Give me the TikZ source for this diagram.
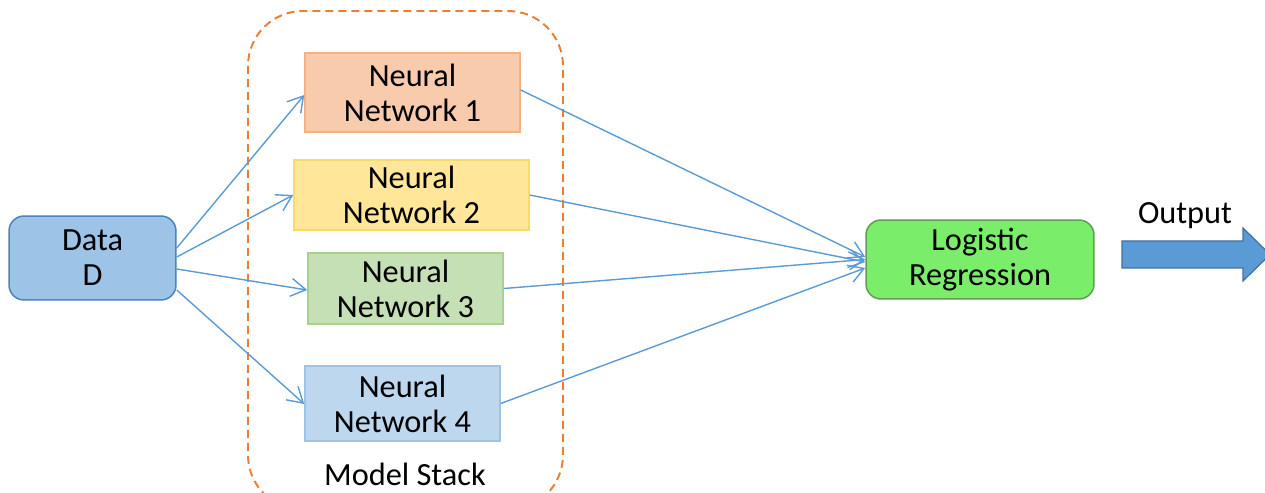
\documentclass[tikz,border=0pt]{standalone}
\usepackage{fontspec}
\setmainfont{Carlito}
\usetikzlibrary{arrows.meta}

\definecolor{datafill}{HTML}{9DC3E6}
\definecolor{dataline}{HTML}{4A83C0}
\definecolor{nnafill}{HTML}{F8CBAD}
\definecolor{nnaline}{HTML}{F4B183}
\definecolor{nnbfill}{HTML}{FFE699}
\definecolor{nnbline}{HTML}{FFD966}
\definecolor{nncfill}{HTML}{C5E0B4}
\definecolor{nncline}{HTML}{A9D18E}
\definecolor{nndfill}{HTML}{BDD7EE}
\definecolor{nndline}{HTML}{9DC3E6}
\definecolor{lrfill}{HTML}{7AEE6A}
\definecolor{lrline}{HTML}{5E9E4E}
\definecolor{linkblue}{HTML}{5B9BD5}
\definecolor{outline}{HTML}{41719C}
\definecolor{stackorange}{HTML}{ED7D31}

\tikzset{
  box/.style = {draw, line width=0.85pt, align=center, inner sep=0pt,
    font=\fontsize{18.4}{19.9}\selectfont},
  link/.style = {draw=linkblue, line width=0.8pt, -{Straight Barb[length=3mm, width=3.6mm]}}
}

\begin{document}
\begin{tikzpicture}[x = 0.02cm, y = -0.02cm]
    \clip (0,0) rectangle (1265,493);
    % model stack frame
    \draw[stackorange, line width=1.1pt, dash pattern=on 0.16cm off 0.1cm, rounded corners=1.1cm]
      (248,11) rectangle (563,510);
    \node[font=\fontsize{18.4}{19.9}\selectfont] (stack) at (405,474) {Model Stack};
    % boxes
    \node[box, fill=datafill, draw=dataline, rounded corners=0.3cm, minimum width=3.34cm, minimum height=1.68cm] (data) at (92.5,258) {Data\\D};
    \node[box, fill=nnafill, draw=nnaline, minimum width=4.3cm, minimum height=1.58cm] (nn1) at (412.5,92.5) {Neural\\Network 1};
    \node[box, fill=nnbfill, draw=nnbline, minimum width=4.7cm, minimum height=1.4cm] (nn2) at (411.5,195) {Neural\\Network 2};
    \node[box, fill=nncfill, draw=nncline, minimum width=3.9cm, minimum height=1.42cm] (nn3) at (405.5,288.5) {Neural\\Network 3};
    \node[box, fill=nndfill, draw=nndline, minimum width=3.9cm, minimum height=1.5cm] (nn4) at (402.5,403.5) {Neural\\Network 4};
    \node[box, fill=lrfill, draw=lrline, rounded corners=0.3cm, minimum width=4.56cm, minimum height=1.58cm] (lr) at (980,259.5) {Logistic\\Regression};
    % data to networks
    \draw[link] ([yshift=0.2cm]data.east) -- ([yshift=-0.05cm]nn1.west);
    \draw[link] ([yshift=0.02cm]data.east) -- (nn2.west);
    \draw[link] ([yshift=-0.22cm]data.east) -- ([yshift=-0.03cm]nn3.west);
    \draw[link] ([yshift=-0.64cm]data.east) -- ([yshift=-0.01cm]nn4.west);
    % networks to regression
    \draw[link] ([yshift=0.05cm]nn1.east) -- ([yshift=0.05cm]lr.west);
    \draw[link] (nn2.east) -- ([yshift=-0.05cm]lr.west);
    \draw[link] (nn3.east) -- (lr.west);
    \draw[link] (nn4.east) -- ([yshift=-0.17cm]lr.west);
    % output
    \node[font=\fontsize{18.4}{19.9}\selectfont] (outtext) at (1185,216) {Output};
    \draw[fill=linkblue, draw=outline, line width=0.7pt]
      (1122,241) -- (1243,241) -- (1243,228) -- (1270,254.5) -- (1243,281) -- (1243,268) -- (1122,268) -- cycle;
\end{tikzpicture}
\end{document}
